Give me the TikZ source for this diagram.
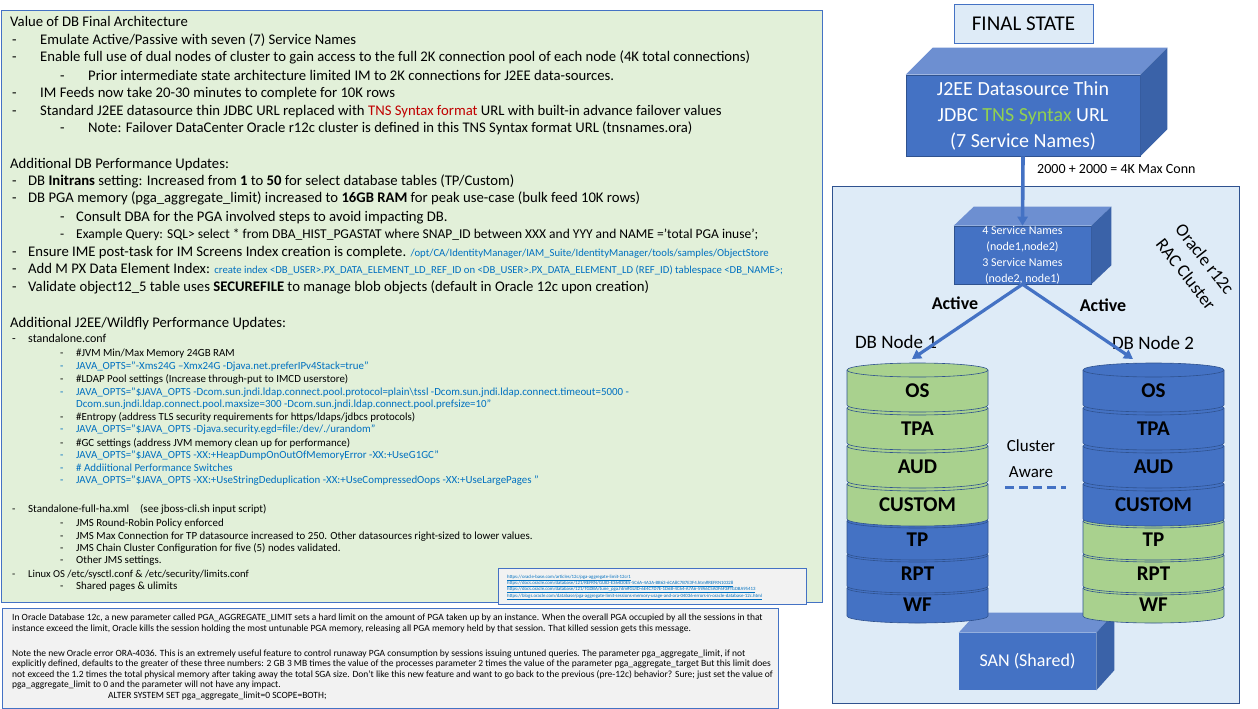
\documentclass[tikz,border=0pt]{standalone}
\usepackage{fontspec}
\setmainfont{Carlito}
\usetikzlibrary{arrows.meta}
\definecolor{OfficeBlue}{rgb}{0.267, 0.447, 0.769}
\definecolor{FaceTop}{rgb}{0.427, 0.561, 0.820}
\definecolor{FaceSide}{rgb}{0.227, 0.384, 0.659}
\definecolor{SegLine}{rgb}{0.184, 0.322, 0.561}
\definecolor{PanelGreen}{rgb}{0.886, 0.941, 0.851}
\definecolor{PanelBlue}{rgb}{0.871, 0.922, 0.969}
\definecolor{NoteGray}{rgb}{0.949, 0.949, 0.949}
\definecolor{CylGreen}{rgb}{0.663, 0.820, 0.557}
\definecolor{CodeBlue}{rgb}{0.0, 0.439, 0.753}
\definecolor{TnsRed}{rgb}{0.753, 0.0, 0.0}
\definecolor{TnsGreen}{rgb}{0.573, 0.816, 0.314}
\newcommand{\dsh}[1]{\makebox[#1][l]{-}}

\begin{document}
\begin{tikzpicture}[x=1pt, y=-1pt,
  ln/.style={anchor=base west, inner sep=0pt, font=\fontsize{14.7}{16}\selectfont},
  mid/.style={anchor=base west, inner sep=0pt, font=\fontsize{12}{14}\selectfont},
  sm/.style={anchor=base west, inner sep=0pt, font=\fontsize{10.9}{13}\selectfont},
  note/.style={anchor=base west, inner sep=0pt, font=\fontsize{9.5}{10}\selectfont},
  lnk/.style={anchor=base west, inner sep=0pt, text=CodeBlue, font=\fontsize{4.8}{5}\selectfont},
  boxfront/.style={fill=OfficeBlue, draw=SegLine, line width=0.6pt, text=white, inner sep=0pt, align=center},
  seglabel/.style={font=\fontsize{21}{21}\selectfont\bfseries, inner sep=0pt},
  raclabel/.style={rotate=-52, inner sep=0pt, font=\fontsize{18}{21}\selectfont},
  conn/.style={draw=OfficeBlue, line width=3.2pt, -{Triangle[length=9pt,width=10pt]}}]

  \useasboundingbox (0,0) rectangle (1258,709);

  % -------------------------------------------------------
  % Left panel: text notes
  % -------------------------------------------------------
  \filldraw[fill=PanelGreen, draw=OfficeBlue, line width=0.8pt] (1.5,10) rectangle (822,602);

  % Value of DB Final Architecture
  \node[ln] (v0) at (10,27) {Value of DB Final Architecture};
  \node[ln] (v1) at (12,45) {\dsh{28pt}Emulate Active/Passive with seven (7) Service Names};
  \node[ln] (v2) at (12,62) {\dsh{28pt}Enable full use of dual nodes of cluster to gain access to the full 2K connection pool of each node (4K total connections)};
  \node[ln] (v3) at (60,81) {\dsh{28pt}Prior intermediate state architecture limited IM to 2K connections for J2EE data-sources.};
  \node[ln] (v4) at (12,97) {\dsh{28pt}IM Feeds now take 20-30 minutes to complete for 10K rows};
  \node[ln] (v5) at (12,115) {\dsh{28pt}Standard J2EE datasource thin JDBC URL replaced with \textcolor{TnsRed}{TNS Syntax format} URL with built-in advance failover values};
  \node[ln] (v6) at (60,132) {\dsh{28pt}Note: Failover DataCenter Oracle r12c cluster is defined in this TNS Syntax format URL (tnsnames.ora)};

  % Additional DB Performance Updates
  \node[ln] (d0) at (10,168) {Additional DB Performance Updates:};
  \node[ln] (d1) at (12,185) {\dsh{16pt}DB \textbf{Initrans} setting: Increased from \textbf{1} to \textbf{50} for select database tables (TP/Custom)};
  \node[ln] (d2) at (12,202) {\dsh{16pt}DB PGA memory (pga\_aggregate\_limit) increased to \textbf{16GB RAM} for peak use-case (bulk feed 10K rows)};
  \node[ln] (d3) at (60,221) {\dsh{16pt}Consult DBA for the PGA involved steps to avoid impacting DB.};
  \node[anchor=base west, inner sep=0pt, font=\fontsize{13.5}{14}\selectfont] (d4) at (60,238)
    {\dsh{16pt}Example Query: SQL> select * from DBA\_HIST\_PGASTAT where SNAP\_ID between XXX and YYY and NAME ='total PGA inuse';};
  \node[ln] (d5) at (12,256) {\dsh{16pt}Ensure IME post-task for IM Screens Index creation is complete. {\color{CodeBlue}\fontsize{10.7}{12}\selectfont/opt/CA/IdentityManager/IAM\_Suite/IdentityManager/tools/samples/ObjectStore}};
  \node[ln] (d6) at (12,273) {\dsh{16pt}Add M PX Data Element Index: {\color{CodeBlue}\fontsize{10.7}{12}\selectfont create index <DB\_USER>.PX\_DATA\_ELEMENT\_LD\_REF\_ID on <DB\_USER>.PX\_DATA\_ELEMENT\_LD (REF\_ID) tablespace <DB\_NAME>;}};
  \node[ln] (d7) at (12,291) {\dsh{16pt}Validate object12\_5 table uses \textbf{SECUREFILE} to manage blob objects (default in Oracle 12c upon creation)};

  % Additional J2EE/Wildfly Performance Updates
  \node[ln] (w0) at (10,327) {Additional J2EE/Wildfly Performance Updates:};
  \node[mid] (w1) at (12,342) {\dsh{16pt}standalone.conf};
  \node[sm] (w2) at (60,356) {\dsh{16pt}\#JVM Min/Max Memory 24GB RAM};
  \node[sm, text=CodeBlue] (w3) at (60,369) {\dsh{16pt}JAVA\_OPTS="-Xms24G –Xmx24G -Djava.net.preferIPv4Stack=true"};
  \node[sm] (w4) at (60,382) {\dsh{16pt}\#LDAP Pool settings (Increase through-put to IMCD userstore)};
  \node[sm, text=CodeBlue] (w5) at (60,395) {\dsh{16pt}JAVA\_OPTS="\$JAVA\_OPTS -Dcom.sun.jndi.ldap.connect.pool.protocol=plain\textbackslash tssl -Dcom.sun.jndi.ldap.connect.timeout=5000 -};
  \node[sm, text=CodeBlue] (w6) at (76,407) {Dcom.sun.jndi.ldap.connect.pool.maxsize=300 -Dcom.sun.jndi.ldap.connect.pool.prefsize=10"};
  \node[sm] (w7) at (60,420) {\dsh{16pt}\#Entropy (address TLS security requirements for https/ldaps/jdbcs protocols)};
  \node[sm, text=CodeBlue] (w8) at (60,432) {\dsh{16pt}JAVA\_OPTS="\$JAVA\_OPTS -Djava.security.egd=file:/dev/./urandom"};
  \node[sm] (w9) at (60,446) {\dsh{16pt}\#GC settings (address JVM memory clean up for performance)};
  \node[sm, text=CodeBlue] (w10) at (60,458) {\dsh{16pt}JAVA\_OPTS="\$JAVA\_OPTS -XX:+HeapDumpOnOutOfMemoryError -XX:+UseG1GC"};
  \node[sm, text=CodeBlue] (w11) at (60,471) {\dsh{16pt}\# Addiitional Performance Switches};
  \node[sm, text=CodeBlue] (w12) at (60,483) {\dsh{16pt}JAVA\_OPTS="\$JAVA\_OPTS -XX:+UseStringDeduplication -XX:+UseCompressedOops -XX:+UseLargePages "};
  \node[mid, font=\fontsize{11}{13}\selectfont] (w13) at (12,512) {\dsh{16pt}Standalone-full-ha.xml\quad (see jboss-cli.sh input script)};
  \node[sm] (w14) at (60,526) {\dsh{16pt}JMS Round-Robin Policy enforced};
  \node[sm] (w15) at (60,539) {\dsh{16pt}JMS Max Connection for TP datasource increased to 250. Other datasources right-sized to lower values.};
  \node[sm] (w16) at (60,551) {\dsh{16pt}JMS Chain Cluster Configuration for five (5) nodes validated.};
  \node[sm] (w17) at (60,563) {\dsh{16pt}Other JMS settings.};
  \node[mid, font=\fontsize{10.6}{13}\selectfont] (w18) at (12,577) {\dsh{16pt}Linux OS /etc/sysctl.conf \& /etc/security/limits.conf};
  \node[sm] (w19) at (60,589) {\dsh{16pt}Shared pages \& ulimits};

  % Reference links box
  \filldraw[fill=NoteGray, draw=OfficeBlue, line width=0.8pt] (498,568) rectangle (806,604);
  \node[lnk] (k1) at (507,578) {\underline{https://oracle-base.com/articles/12c/pga-aggregate-limit-12cr1}};
  \node[lnk] (k2) at (507,584) {\underline{https://docs.oracle.com/database/121/REFRN/GUID-E364D0E5-5C6A-4A3A-BB63-6CA8C7B7E3F4.htm\#REFRN10328}};
  \node[lnk] (k3) at (507,590) {\underline{https://docs.oracle.com/database/121/TGDBA/tune\_pga.htm\#GUID-6E4C7D7E-1D6B-4C64-A7A6-59A6C5A0F6F3\#TGDBA95413}};
  \node[lnk] (k4) at (507,597) {\underline{https://blogs.oracle.com/database/pga-aggregate-limit-sessions-memory-usage-and-ora-04036-errors-in-oracle-database-12c.html}};

  % PGA note box
  \filldraw[fill=NoteGray, draw=OfficeBlue, line width=0.8pt] (2,608) rectangle (778,708);
  \node[note] (g1) at (12,620) {In Oracle Database 12c, a new parameter called PGA\_AGGREGATE\_LIMIT sets a hard limit on the amount of PGA taken up by an instance. When the overall PGA occupied by all the sessions in that};
  \node[note] (g2) at (12,631) {instance exceed the limit, Oracle kills the session holding the most untunable PGA memory, releasing all PGA memory held by that session. That killed session gets this message.};
  \node[note] (g3) at (12,656) {Note the new Oracle error ORA-4036. This is an extremely useful feature to control runaway PGA consumption by sessions issuing untuned queries. The parameter pga\_aggregate\_limit, if not};
  \node[note] (g4) at (12,666.5) {explicitly defined, defaults to the greater of these three numbers: 2 GB 3 MB times the value of the processes parameter 2 times the value of the parameter pga\_aggregate\_target But this limit does};
  \node[note] (g5) at (12,677) {not exceed the 1.2 times the total physical memory after taking away the total SGA size. Don't like this new feature and want to go back to the previous (pre-12c) behavior? Sure; just set the value of};
  \node[note] (g6) at (12,687.5) {pga\_aggregate\_limit to 0 and the parameter will not have any impact.};
  \node[note] (g7) at (108,698) {ALTER SYSTEM SET pga\_aggregate\_limit=0 SCOPE=BOTH;};

  % -------------------------------------------------------
  % Right panel: final state architecture
  % -------------------------------------------------------
  \node[fill=PanelBlue, draw=OfficeBlue, line width=0.8pt, minimum width=139pt, minimum height=39pt,
        inner sep=0pt, font=\fontsize{21}{21}\selectfont] (final) at (1023.5,23.5) {FINAL STATE};

  % Cluster background
  \filldraw[fill=PanelBlue, draw=SegLine, line width=0.8pt] (832,186) rectangle (1239,703);
  \node[raclabel] (rac1) at (1205,259) {Oracle r12c};
  \node[raclabel] (rac2) at (1186,274) {RAC Cluster};

  % J2EE datasource block
  \node[boxfront, minimum width=234pt, minimum height=81pt, font=\fontsize{20}{26}\selectfont] (j2ee) at (1023,115.5)
    {J2EE Datasource Thin\\JDBC \textcolor{TnsGreen}{TNS Syntax} URL\\(7 Service Names)};
  \fill[FaceTop] (j2ee.north west) -- ++(27,-27) -- ([shift={(27,-27)}]j2ee.north east) -- (j2ee.north east) -- cycle;
  \fill[FaceSide] (j2ee.north east) -- ++(27,-27) -- ([shift={(27,-27)}]j2ee.south east) -- (j2ee.south east) -- cycle;
  \node[anchor=west, inner sep=0pt, font=\fontsize{14}{16}\selectfont] (maxconn) at (1037,169) {2000 + 2000 = 4K Max Conn};

  % Service names block
  \node[boxfront, minimum width=137pt, minimum height=58pt, font=\fontsize{12}{16}\selectfont] (svc) at (1022.5,255)
    {4 Service Names\\(node1,node2)\\3 Service Names\\(node2, node1)};
  \fill[FaceTop] (svc.north west) -- ++(20,-19) -- ([shift={(20,-19)}]svc.north east) -- (svc.north east) -- cycle;
  \fill[FaceSide] (svc.north east) -- ++(20,-19) -- ([shift={(20,-19)}]svc.south east) -- (svc.south east) -- cycle;

  \draw[conn, line width=3.6pt] (j2ee.south) -- (svc.north);

  % SAN block
  \node[boxfront, draw=none, minimum width=137pt, minimum height=57pt, font=\fontsize{18}{20}\selectfont] (san) at (1027.5,661.5) {SAN (Shared)};
  \fill[FaceTop] (san.north west) -- ++(18,-20) -- ([shift={(18,-20)}]san.north east) -- (san.north east) -- cycle;
  \fill[FaceSide] (san.north east) -- ++(18,-20) -- ([shift={(18,-20)}]san.south east) -- (san.south east) -- cycle;

  % Database node stacks (drawn from the bottom segment up)
  \foreach \yt/\yb/\lab/\ca/\cb in {588/616/WF/OfficeBlue/CylGreen, 555/586/RPT/OfficeBlue/CylGreen,
      521/553/TP/OfficeBlue/CylGreen, 484/519/CUSTOM/CylGreen/OfficeBlue, 446/481/AUD/CylGreen/OfficeBlue,
      408/443/TPA/CylGreen/OfficeBlue, 370/405/OS/CylGreen/OfficeBlue} {
    % DB Node 1
    \filldraw[fill=\ca, draw=SegLine, line width=0.6pt] (847,\yt) -- (847,\yb)
      arc[start angle=180, end angle=0, x radius=70.5, y radius=7] -- (988,\yt)
      arc[start angle=0, end angle=-180, x radius=70.5, y radius=7] -- cycle;
    \draw[SegLine, line width=0.6pt] (847,\yt) arc[start angle=180, end angle=0, x radius=70.5, y radius=7];
    \node[seglabel] (a-\lab) at (917.5,{(\yt+\yb)/2+3}) {\lab};
    % DB Node 2
    \filldraw[fill=\cb, draw=SegLine, line width=0.6pt] (1083,\yt) -- (1083,\yb)
      arc[start angle=180, end angle=0, x radius=70.5, y radius=7] -- (1224,\yt)
      arc[start angle=0, end angle=-180, x radius=70.5, y radius=7] -- cycle;
    \draw[SegLine, line width=0.6pt] (1083,\yt) arc[start angle=180, end angle=0, x radius=70.5, y radius=7];
    \node[seglabel] (b-\lab) at (1153.5,{(\yt+\yb)/2+3}) {\lab};
  }

  % Node labels and active links
  \node[font=\fontsize{19}{20}\selectfont, inner sep=0pt] (node1) at (896,342) {DB Node 1};
  \node[font=\fontsize{19}{20}\selectfont, inner sep=0pt] (node2) at (1153,343) {DB Node 2};
  \coordinate (n1top) at (912,359);
  \coordinate (n2top) at (1133,359);
  \draw[conn] (svc.south) -- (n1top);
  \draw[conn] (svc.south) -- (n2top);
  \node[font=\fontsize{18}{20}\selectfont\bfseries, inner sep=0pt] (act1) at (955,303) {Active};
  \node[font=\fontsize{18}{20}\selectfont\bfseries, inner sep=0pt] (act2) at (1103,305) {Active};

  % Cluster aware link
  \node[font=\fontsize{17}{26}\selectfont, align=center, inner sep=0pt] (aware) at (1031,459) {Cluster\\Aware};
  \draw[OfficeBlue, line width=3pt, dash pattern=on 9pt off 5pt] (1005,487) -- (1066,487);

\end{tikzpicture}
\end{document}
